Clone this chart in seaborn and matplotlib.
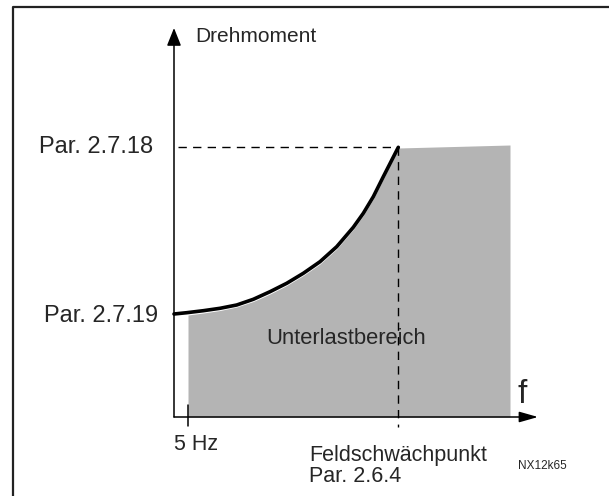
import matplotlib
matplotlib.use("Agg")
import matplotlib.pyplot as plt
import seaborn as sns
import pandas as pd

# Kennlinie (schematisch, Frequenz / Drehmoment in Zeichnungseinheiten)
freq_kurve = [0, 12.7, 29.3, 46, 62.7, 79.3, 96, 112.7, 129.3, 146, 162.7, 179.3, 189.3, 199.3, 209.3, 224.3]
moment_kurve = [103, 104.3, 106.3, 108.7, 112, 117.7, 125.3, 133.7, 143.7, 155.3, 170.3, 189.7, 203.7, 220.3, 240.3, 269.7]

# Unterlastbereich (grau)
freq_bereich = [14, 29.3, 46, 62.7, 79.3, 96, 112.7, 129.3, 146, 162.7, 179.3, 189.3, 199.3, 209.3, 224.3, 336]
moment_bereich = [102, 104, 106.5, 110, 115.5, 123, 131.5, 141.5, 153, 168, 187.5, 201.5, 218, 238, 269, 272]

f_min = 14          # 5 Hz
f_feld = 224.3      # Feldschwaechpunkt
m_max = 269.7       # Par. 2.7.18
m_min = 103         # Par. 2.7.19

kurve = pd.DataFrame({"f": freq_kurve, "M": moment_kurve})

sns.set_style("white")
plt.rcParams["font.family"] = ["Liberation Sans", "DejaVu Sans"]

fig = plt.figure(figsize=(6.09, 4.96), dpi=100)
ax = fig.add_axes([0, 0, 1, 1])
ax.set_xlim(-174, 435)
ax.set_ylim(-79, 417)
ax.axis("off")

ax.fill_between(freq_bereich, 0, moment_bereich, color="#b4b4b4", lw=0, zorder=1)
sns.lineplot(data=kurve, x="f", y="M", color="black", lw=2.6, sort=False, ax=ax, zorder=3)

# Achsen mit Pfeilen
ax.annotate("", xy=(0, 389), xytext=(0, 0),
            arrowprops=dict(arrowstyle="-|>,head_length=0.9,head_width=0.36", mutation_scale=12,
                            lw=1.1, color="black", shrinkA=0, shrinkB=0))
ax.annotate("", xy=(364, 0), xytext=(0, 0),
            arrowprops=dict(arrowstyle="-|>,head_length=0.95,head_width=0.27", mutation_scale=12,
                            lw=1.1, color="black", shrinkA=0, shrinkB=0))

# Hilfslinien
ax.plot([4, f_feld], [m_max, m_max], color="black", lw=1, dashes=(6, 4.5), zorder=2)
ax.plot([f_feld, f_feld], [m_max, -10], color="black", lw=1, dashes=(6, 4.5), zorder=2)
ax.plot([f_min, f_min], [12, -9], color="black", lw=1.1)

# Rahmen
ax.plot([-161, -161, 435], [-79, 410, 410], color="#222222", lw=1.6, clip_on=False)

# Beschriftungen
ax.text(21, 380, "Drehmoment", fontsize=15, ha="left", va="center")
ax.text(-21, m_max, "Par. 2.7.18", fontsize=17, ha="right", va="center")
ax.text(-16, m_min - 2, "Par. 2.7.19", fontsize=17, ha="right", va="center")
ax.text(172, 78, "Unterlastbereich", fontsize=15.8, ha="center", va="center")
ax.text(344, 14, "f", fontsize=24, ha="left", va="baseline")
ax.text(0, -27, "5 Hz", fontsize=15.5, ha="left", va="center")
ax.text(135, -38, "Feldschwächpunkt", fontsize=15.5, ha="left", va="center")
ax.text(135, -59, "Par. 2.6.4", fontsize=15.5, ha="left", va="center")
ax.text(344, -49, "NX12k65", fontsize=8.5, ha="left", va="center")

fig.savefig("out.png", dpi=100)
